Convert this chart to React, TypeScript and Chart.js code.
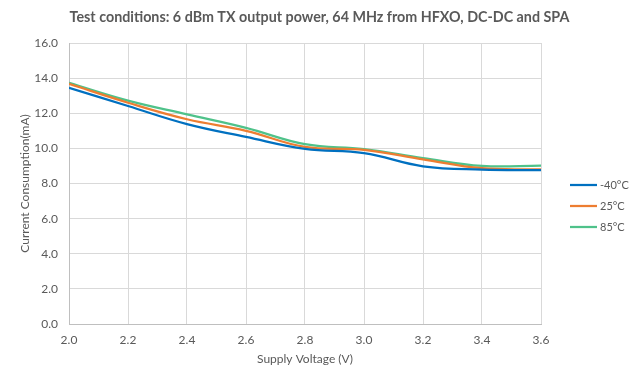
import React, { useEffect, useRef } from "react";
import { Chart, registerables } from "chart.js";

Chart.register(...registerables);

const voltages = [2.0, 2.2, 2.4, 2.6, 2.8, 3.0, 3.2, 3.4, 3.6];
const seriesNames = ["-40°C", "25°C", "85°C"];
const cold = [13.45, 12.41, 11.38, 10.65, 9.97, 9.73, 8.98, 8.79, 8.76];
const room = [13.67, 12.6, 11.66, 11.0, 10.08, 9.92, 9.38, 8.87, 8.8];
const hot = [13.73, 12.72, 11.94, 11.17, 10.24, 9.96, 9.45, 9.0, 9.02];
const seriesColors = ["#0070C0", "#ED7D31", "#4FC28A"];
const xTicks = [2.0, 2.2, 2.4, 2.6, 2.8, 3.0, 3.2, 3.4, 3.6];
const yTicks = [0, 2, 4, 6, 8, 10, 12, 14, 16];
const chartTitle = "Test conditions: 6 dBm TX output power, 64 MHz from HFXO, DC-DC and SPA";

const TEXT = "#595959";
const FONT = "Lato, 'Open Sans', sans-serif";

const decorPlugin = {
  id: "decor",
  afterDraw(chart: any) {
    const ctx = chart.ctx;
    const ca = chart.chartArea;
    ctx.save();
    ctx.fillStyle = TEXT;
    ctx.font = `bold 14.3px ${FONT}`;
    ctx.textAlign = "center";
    ctx.textBaseline = "middle";
    ctx.fillText(chartTitle, chart.width / 2, 17);
    chart.data.datasets.forEach((ds: any, i: number) => {
      const y = 185 + i * 21;
      const x0 = ca.right + 29;
      ctx.strokeStyle = ds.borderColor;
      ctx.lineWidth = 2.25;
      ctx.beginPath();
      ctx.moveTo(x0, y);
      ctx.lineTo(x0 + 27, y);
      ctx.stroke();
      ctx.fillStyle = TEXT;
      ctx.font = `11px ${FONT}`;
      ctx.textBaseline = "middle";
      ctx.textAlign = "left";
      ctx.fillText(ds.label, x0 + 30, y);
    });
    ctx.restore();
  },
};

export default function App() {
  const ref = useRef<HTMLCanvasElement>(null);
  useEffect(() => {
    if (!ref.current) return;
    const all = [cold, room, hot];
    const chart = new Chart(ref.current, {
      type: "line",
      data: {
        datasets: all.map((vals, i) => ({
          label: seriesNames[i],
          data: voltages.map((v, j) => ({ x: v, y: vals[j] })),
          borderColor: seriesColors[i],
          backgroundColor: seriesColors[i],
          borderWidth: 2.25,
          pointRadius: 0,
          tension: 0.4,
          fill: false,
        })),
      },
      options: {
        responsive: false,
        animation: false,
        layout: { padding: { top: 43, right: 98, bottom: 0, left: 0 } },
        plugins: {
          legend: { display: false },
          tooltip: { enabled: false },
          title: { display: false },
        },
        scales: {
          x: {
            type: "linear",
            min: 2.0,
            max: 3.6,
            afterBuildTicks: (s: any) => {
              s.ticks = xTicks.map((v) => ({ value: v }));
            },
            afterFit: (s: any) => {
              s.height = 58;
            },
            ticks: {
              color: TEXT,
              font: { family: FONT, size: 12 },
              padding: 9,
              maxRotation: 0,
              callback: (v: any) => Number(v).toFixed(1),
            },
            grid: { color: "#D9D9D9", drawTicks: false, lineWidth: 1 },
            border: { color: "#BFBFBF" },
            title: {
              display: true,
              text: "Supply Voltage (V)",
              color: TEXT,
              font: { family: FONT, size: 12 },
              padding: { top: 0, bottom: 16 },
            },
          },
          y: {
            min: 0,
            max: 16,
            afterBuildTicks: (s: any) => {
              s.ticks = yTicks.map((v) => ({ value: v }));
            },
            afterFit: (s: any) => {
              s.width = 69;
            },
            ticks: {
              color: TEXT,
              font: { family: FONT, size: 12 },
              padding: 11,
              callback: (v: any) => Number(v).toFixed(1),
            },
            grid: { color: "#D9D9D9", drawTicks: false, lineWidth: 1 },
            border: { color: "#BFBFBF" },
            title: {
              display: true,
              text: "Current Consumption(mA)",
              color: TEXT,
              font: { family: FONT, size: 12 },
              padding: { top: 18, bottom: 0 },
            },
          },
        },
      },
      plugins: [decorPlugin],
    });
    return () => chart.destroy();
  }, []);
  return (
    <div style={{ position: "absolute", left: 0, top: 0, width: 639, height: 382, background: "#fff" }}>
      <canvas ref={ref} width={639} height={382} />
    </div>
  );
}
